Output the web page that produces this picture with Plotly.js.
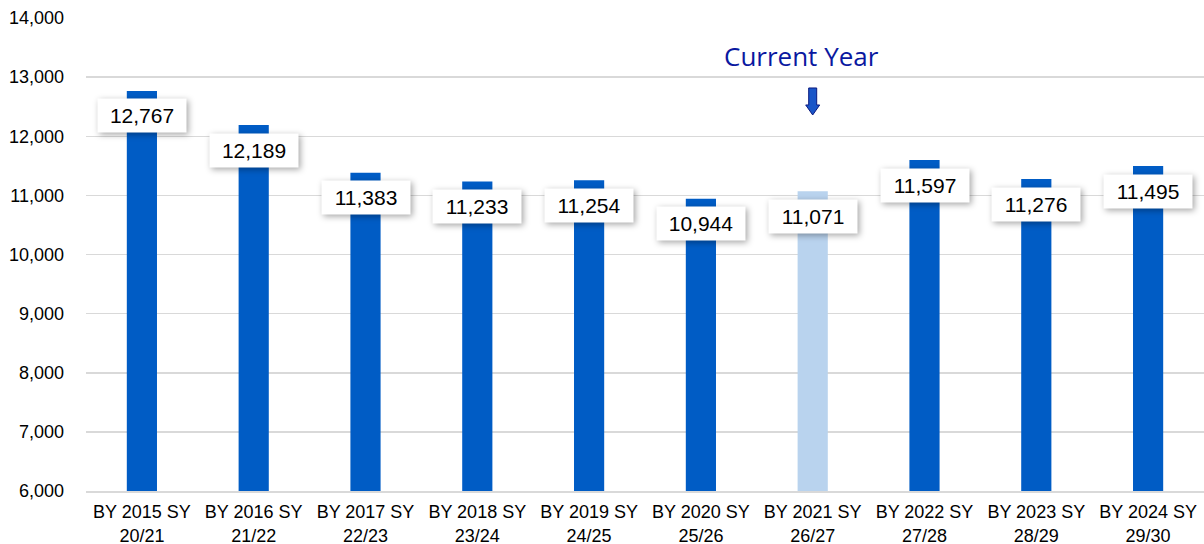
<!DOCTYPE html>
<html>
<head>
<meta charset="utf-8">
<script src="https://cdn.plot.ly/plotly-3.0.1.min.js"></script>
<style>
  html, body { margin: 0; padding: 0; background: #fff; }
  #chart { width: 1204px; height: 544px; }
  .annotation rect.bg { filter: drop-shadow(2px 2px 3px rgba(0,0,0,0.35)); }
</style>
</head>
<body>
<div id="chart"></div>
<script>
const categories = [
  "BY 2015 SY<br>20/21", "BY 2016 SY<br>21/22", "BY 2017 SY<br>22/23", "BY 2018 SY<br>23/24",
  "BY 2019 SY<br>24/25", "BY 2020 SY<br>25/26", "BY 2021 SY<br>26/27", "BY 2022 SY<br>27/28",
  "BY 2023 SY<br>28/29", "BY 2024 SY<br>29/30"
];
const values = [12767, 12189, 11383, 11233, 11254, 10944, 11071, 11597, 11276, 11495];
const currentIndex = 6;
const currentLabel = "Current Year";
const yTickVals = [6000, 7000, 8000, 9000, 10000, 11000, 12000, 13000, 14000];

const darkBlue = "#005CC5";
const lightBlue = "#B9D3EE";
const barColors = values.map((v, i) => i === currentIndex ? lightBlue : darkBlue);

const trace = {
  type: "bar",
  x: categories,
  y: values,
  marker: { color: barColors, line: { width: 0 } },
  hoverinfo: "skip"
};

const fmt = v => v.toLocaleString("en-US");

const annotations = values.map((v, i) => ({
  x: categories[i],
  y: v,
  xref: "x",
  yref: "y",
  text: fmt(v),
  showarrow: false,
  yanchor: "middle",
  xanchor: "center",
  yshift: -25,
  bgcolor: "#ffffff",
  width: 84,
  height: 29,
  borderpad: 2,
  font: { family: "Liberation Sans, Arial, sans-serif", size: 21, color: "#000" }
}));

annotations.push({
  x: categories[currentIndex],
  y: 14000,
  xref: "x",
  yref: "y",
  text: currentLabel,
  showarrow: false,
  yanchor: "middle",
  xanchor: "center",
  yshift: -38,
  xshift: -11,
  font: { family: "Open Sans, sans-serif", size: 26, color: "#0A18A0", weight: 500 }
});

const layout = {
  width: 1204,
  height: 544,
  margin: { l: 86, r: 0, t: 18, b: 53 },
  paper_bgcolor: "#ffffff",
  plot_bgcolor: "#ffffff",
  showlegend: false,
  bargap: 0.73,
  xaxis: {
    type: "category",
    showgrid: false,
    showline: true,
    linecolor: "#D9D9D9",
    linewidth: 1.5,
    ticks: "",
    ticklabelstandoff: 4,
    tickfont: { family: "Liberation Sans, Arial, sans-serif", size: 18, color: "#000" },
    fixedrange: true
  },
  yaxis: {
    range: [6000, 14000],
    tickvals: yTickVals,
    tickformat: ",d",
    showgrid: true,
    gridcolor: "#D9D9D9",
    gridwidth: 1.5,
    zeroline: false,
    showline: false,
    ticks: "",
    ticklabelstandoff: 21,
    tickfont: { family: "Liberation Sans, Arial, sans-serif", size: 18, color: "#000" },
    fixedrange: true
  },
  annotations: annotations,
  shapes: [{
    type: "path",
    xref: "x",
    yref: "y",
    xsizemode: "pixel",
    ysizemode: "pixel",
    xanchor: currentIndex,
    yanchor: 12360,
    path: "M -4,27 L 4,27 L 4,10 L 7,10 L 0,0 L -7,10 L -4,10 Z",
    fillcolor: "#1A56C8",
    line: { color: "#0A1A80", width: 1 }
  }]
};

Plotly.newPlot("chart", [trace], layout, { displayModeBar: false, staticPlot: true });
</script>
</body>
</html>
